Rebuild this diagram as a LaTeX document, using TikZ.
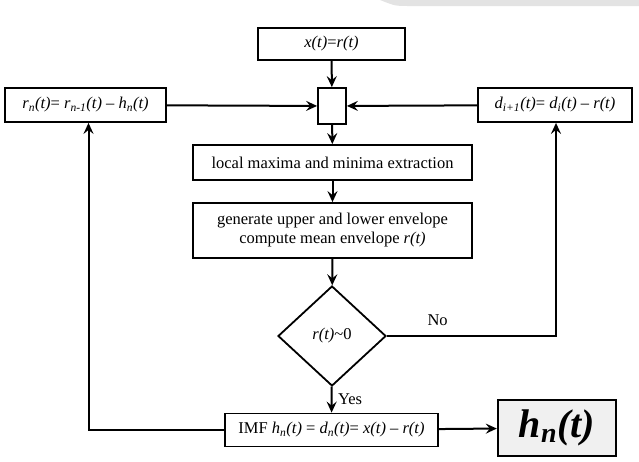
\documentclass[tikz,border=0pt]{standalone}
\usepackage{fontspec}
\setmainfont{Liberation Serif}
\usetikzlibrary{shapes,positioning,calc,arrows.meta}

\newcommand{\vsub}[2]{\textit{#1}\textsubscript{\textit{#2}}}

\begin{document}
\begin{tikzpicture}[x=1pt,y=-1pt,
	every node/.style={font=\fontsize{16.5}{19}\selectfont},
	box/.style={draw,line width=1.8pt,inner sep=0,minimum height=34pt},
	dec/.style={diamond,draw,line width=1.8pt,inner sep=0,minimum width=108pt,minimum height=100pt},
	arr/.style={-{Stealth[length=11pt,width=10pt,inset=4pt]},line width=2pt},
]
\useasboundingbox (0,0) rectangle (639,461);
\fill[gray!22] (380,0) .. controls (395,6) .. (410,6) -- (639,6) -- (639,0) -- cycle;

\node[box,minimum width=147pt,minimum height=32pt] (xr) at (331.5,44) {\textit{x(t)}=\textit{r(t)}};
\node[box,minimum width=28pt,minimum height=36pt] (sq) at (332,106) {};
\node[box,minimum width=161pt] (rn) at (85.5,105) {\vsub{r}{n}\textit{(t)}= \vsub{r}{n-1}\textit{(t)} -- \vsub{h}{n}\textit{(t)}};
\node[box,minimum width=154pt] (di) at (555,105) {\vsub{d}{i+1}\textit{(t)}= \vsub{d}{i}\textit{(t)} -- \textit{r(t)}};
\node[box,minimum width=279pt,minimum height=35pt] (lm) at (332.5,162.5) {local maxima and minima extraction};
\node[box,minimum width=279pt,minimum height=55pt,align=center] (ge) at (332.5,230.5)
	{generate upper and lower envelope\\compute mean envelope \textit{r(t)}};
\node[dec] (dia) at (332,336) {\textit{r(t)}\textasciitilde0};
\node[box,minimum width=213pt,minimum height=33pt] (imf) at (331.5,430)
	{IMF \vsub{h}{n}\textit{(t)} = \vsub{d}{n}\textit{(t)}= \textit{x(t)} -- \textit{r(t)}};
\node[box,minimum width=118pt,minimum height=56pt,fill=gray!12,line width=2.4pt,
	font=\fontsize{40}{44}\selectfont] (hn) at (557,428) {\textbf{\textit{h\textsubscript{n}(t)}}};

\draw[arr] (xr) -- (sq);
\draw[arr] (sq) -- (lm);
\draw[arr] (lm) -- (ge);
\draw[arr] (ge) -- (dia);
\draw[arr] (dia) -- node[right,xshift=2pt] {Yes} (imf);
\draw[arr] (rn) -- (sq);
\draw[arr] (di) -- (sq);
\draw[arr] (imf.west) -| ($(rn.south)+(3,0)$);
\draw[arr] (dia.east) -- node[above,yshift=6pt,pos=.3] {No} ($(dia.east-|di.south)+(1,0)$) -- ($(di.south)+(1,0)$);
\draw[arr] (imf) -- (hn);
\end{tikzpicture}
\end{document}
